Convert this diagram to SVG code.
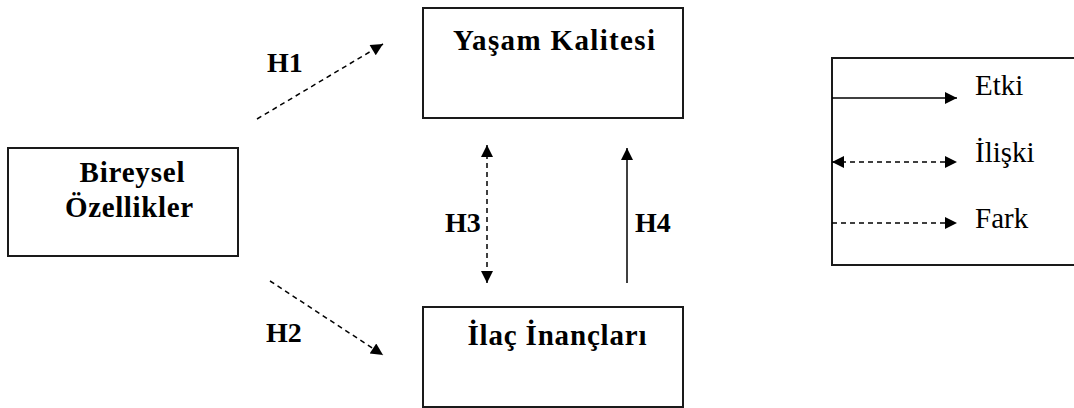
<svg xmlns="http://www.w3.org/2000/svg" width="1074" height="408" viewBox="0 0 1074 408">
  <style>
    .box { fill: #ffffff; stroke: #1a1a1a; stroke-width: 2; }
    .title { font-family: "Liberation Serif", "Times New Roman", serif; font-weight: bold; font-size: 29px; fill: #000; text-anchor: middle; }
    .lbl { font-family: "Liberation Serif", "Times New Roman", serif; font-weight: bold; font-size: 28px; fill: #000; }
    .leg { font-family: "Liberation Serif", "Times New Roman", serif; font-size: 29px; fill: #000; }
    .solid { stroke: #000; stroke-width: 1.5; fill: none; }
    .dash { stroke: #000; stroke-width: 1.5; fill: none; stroke-dasharray: 5 4; }
  </style>
  <defs>
    <marker id="headL" viewBox="0 0 10 10" refX="10" refY="5" markerWidth="14" markerHeight="12" markerUnits="userSpaceOnUse" orient="auto-start-reverse">
      <path d="M0,0 L10,5 L0,10 Z" fill="#000"/>
    </marker>
  </defs>

  <g id="node-yasam">
    <rect class="box" x="423" y="8" width="260" height="110"/>
    <text class="title" x="554" y="50" textLength="202" lengthAdjust="spacing">Yaşam Kalitesi</text>
  </g>

  <g id="node-bireysel">
    <rect class="box" x="8" y="148" width="230" height="108"/>
    <text class="title" x="132" y="182" textLength="105" lengthAdjust="spacing">Bireysel</text>
    <text class="title" x="129" y="217" textLength="128" lengthAdjust="spacing">Özellikler</text>
  </g>

  <g id="node-ilac">
    <rect class="box" x="423" y="307" width="260" height="100"/>
    <text class="title" x="557" y="345" textLength="179" lengthAdjust="spacing">İlaç İnançları</text>
  </g>

  <g id="legend">
    <rect class="box" x="832" y="58" width="250" height="207"/>
    <line class="solid" x1="832" y1="98" x2="957" y2="98" marker-end="url(#headL)"/>
    <line class="dash" x1="832" y1="162" x2="957" y2="162" marker-start="url(#headL)" marker-end="url(#headL)"/>
    <line class="dash" x1="832" y1="223" x2="957" y2="223" marker-end="url(#headL)"/>
    <text class="leg" x="975" y="95">Etki</text>
    <text class="leg" x="975" y="162">İlişki</text>
    <text class="leg" x="975" y="228">Fark</text>
  </g>

  <g id="connectors">
    <line class="dash" x1="257" y1="119" x2="383" y2="44" marker-end="url(#headL)"/>
    <line class="dash" x1="270" y1="281" x2="383" y2="355" marker-end="url(#headL)"/>
    <line class="dash" x1="487" y1="145" x2="487" y2="283" marker-start="url(#headL)" marker-end="url(#headL)"/>
    <line class="solid" x1="627" y1="148" x2="627" y2="283" marker-start="url(#headL)"/>
    <text class="lbl" x="267" y="72">H1</text>
    <text class="lbl" x="266" y="342">H2</text>
    <text class="lbl" x="445" y="232">H3</text>
    <text class="lbl" x="635" y="232">H4</text>
  </g>
</svg>
